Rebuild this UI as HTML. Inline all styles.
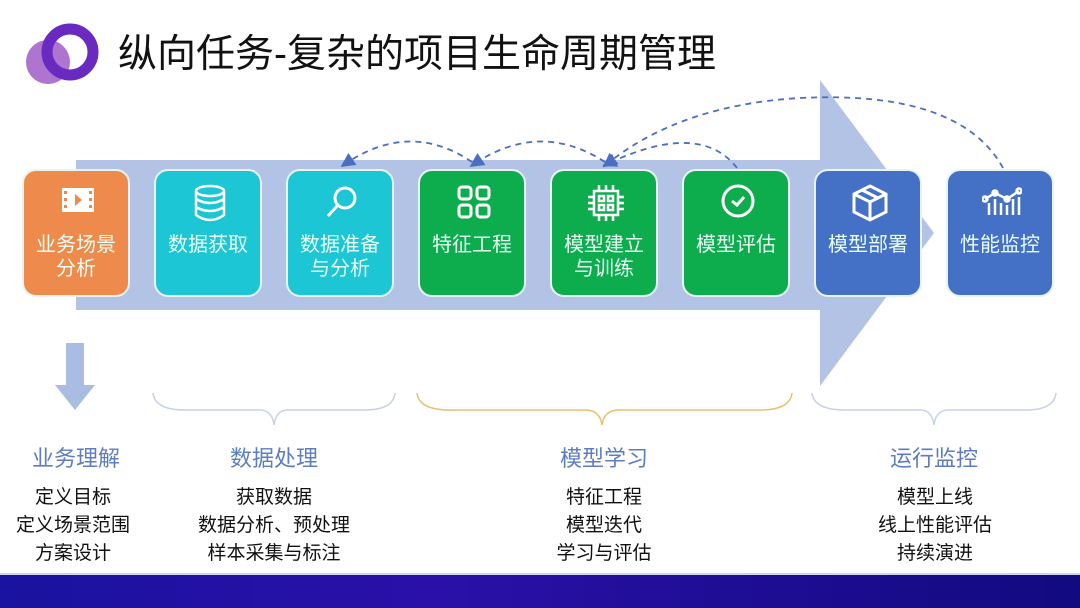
<!DOCTYPE html>
<html><head><meta charset="utf-8"><style>
body{margin:0;width:1080px;height:608px;overflow:hidden;background:#fff;font-family:"Liberation Sans","Noto Sans CJK SC",sans-serif;position:relative}
.t{position:absolute;left:118px;top:23px;font-size:39px;color:#111;letter-spacing:0px}
.box{position:absolute;top:169px;width:108px;height:128px;border-radius:14px;border:2px solid #e8f4f0;box-sizing:border-box;color:#e8fff4;text-align:center;font-size:20px;line-height:24px}
.box .lb{position:absolute;top:62px;left:-4px;right:-4px}
.box svg{position:absolute;left:34px;top:12px}
.h{position:absolute;top:441px;font-size:22px;color:#5d7dbf;text-align:center;width:200px}
.l{position:absolute;top:484px;font-size:19px;line-height:28px;color:#111;text-align:center;width:200px}
</style></head><body>
<svg width="1080" height="608" style="position:absolute;left:0;top:0">
<defs><linearGradient id="g" x1="0" y1="0" x2="1" y2="0"><stop offset="0" stop-color="#1a12a0"/><stop offset="0.4" stop-color="#2a10a8"/><stop offset="1" stop-color="#120a80"/></linearGradient>
<marker id="a" markerWidth="8" markerHeight="8" refX="5" refY="4" orient="auto"><path d="M0,0L8,4L0,8z" fill="#4a6fc0"/></marker></defs>
<circle cx="48" cy="62" r="22" fill="#a05cc8" opacity="0.85"/>
<circle cx="70" cy="52" r="23" fill="none" stroke="#6a2ac0" stroke-width="11"/>
<path d="M76,160 H820 V80 L934,233 L820,386 V310 H76Z" fill="#b3c3e5"/>
<g fill="none" stroke="#4a6fc0" stroke-width="1.8" stroke-dasharray="6,5">
<path d="M472,162 Q410,120 345,164" marker-end="url(#a)"/>
<path d="M605,162 Q540,120 474,164" marker-end="url(#a)"/>
<path d="M737,168 Q700,120 607,164" marker-end="url(#a)"/>
<path d="M1003,168 Q960,90 800,98 Q680,105 607,164" marker-end="url(#a)"/>
</g>
<path d="M66,343 H84 V385 H95 L75,410 L55,385 H66Z" fill="#a9bde3"/>
<g fill="none" stroke-width="1.5">
<path d="M153,393 Q155,410 185,410 H260 Q272,410 274,425 Q276,410 288,410 H365 Q393,410 395,393" stroke="#c9d2e2"/>
<path d="M417,393 Q419,410 450,410 H585 Q600,410 602,425 Q604,410 619,410 H760 Q790,410 792,393" stroke="#e8c070"/>
<path d="M812,393 Q814,410 845,410 H920 Q932,410 934,425 Q936,410 948,410 H1026 Q1054,410 1056,393" stroke="#c9d2e2"/>
</g>
<rect x="0" y="575" width="1080" height="33" fill="url(#g)"/>
<rect x="0" y="573" width="1080" height="2" fill="#d0d4ec"/>
</svg>
<div class="t">纵向任务-复杂的项目生命周期管理</div>

<div class="box" style="left:22px;background:#ee8b4c"><svg width="40" height="34" viewBox="0 0 40 34"><rect x="4" y="5" width="32" height="24" fill="#fff"/><path d="M17,11 L24,17 L17,23z" fill="#ee8b4c"/><g fill="#ee8b4c"><rect x="6" y="8" width="3" height="3"/><rect x="6" y="15" width="3" height="3"/><rect x="6" y="22" width="3" height="3"/><rect x="31" y="8" width="3" height="3"/><rect x="31" y="15" width="3" height="3"/><rect x="31" y="22" width="3" height="3"/></g></svg><div class="lb">业务场景<br>分析</div></div>
<div class="box" style="left:154px;background:#1cc6d4"><svg width="40" height="40" viewBox="0 0 40 40" fill="none" stroke="#fff" stroke-width="2.5"><ellipse cx="20" cy="8" rx="14" ry="5"/><path d="M6,8V32Q20,42 34,32V8M6,16Q20,24 34,16M6,24Q20,32 34,24"/></svg><div class="lb">数据获取</div></div>
<div class="box" style="left:286px;background:#1cc6d4"><svg width="40" height="40" viewBox="0 0 40 40" fill="none" stroke="#fff" stroke-width="3"><circle cx="23" cy="15" r="10"/><path d="M16,22L6,33"/></svg><div class="lb">数据准备<br>与分析</div></div>
<div class="box" style="left:418px;background:#0dad4e"><svg width="40" height="40" viewBox="0 0 40 40" fill="none" stroke="#fff" stroke-width="3"><rect x="5" y="4" width="12" height="12" rx="3"/><rect x="23" y="4" width="12" height="12" rx="3"/><rect x="5" y="22" width="12" height="12" rx="3"/><rect x="23" y="22" width="12" height="12" rx="3"/></svg><div class="lb">特征工程</div></div>
<div class="box" style="left:550px;background:#0dad4e"><svg width="40" height="40" viewBox="0 0 40 40" fill="none" stroke="#fff" stroke-width="2.5"><rect x="8" y="8" width="24" height="24"/><rect x="13" y="13" width="5" height="5"/><rect x="22" y="13" width="5" height="5"/><rect x="13" y="22" width="5" height="5"/><rect x="22" y="22" width="5" height="5"/><path d="M13,2V8M20,2V8M27,2V8M13,32V38M20,32V38M27,32V38M2,14H8M2,20H8M2,26H8M32,14H38M32,20H38M32,26H38"/></svg><div class="lb">模型建立<br>与训练</div></div>
<div class="box" style="left:682px;background:#0dad4e"><svg width="40" height="40" viewBox="0 0 40 40" fill="none" stroke="#fff" stroke-width="3"><circle cx="20" cy="18" r="15"/><path d="M14,18L19,22L26,14"/></svg><div class="lb">模型评估</div></div>
<div class="box" style="left:814px;background:#4471c5"><svg width="40" height="40" viewBox="0 0 40 40" fill="none" stroke="#fff" stroke-width="3"><path d="M20,3L36,11V29L20,37L4,29V11Z M4,11L20,19L36,11 M20,19V37 M12,7L28,15"/></svg><div class="lb">模型部署</div></div>
<div class="box" style="left:946px;background:#4471c5"><svg width="40" height="40" viewBox="0 0 40 40" fill="none" stroke="#fff" stroke-width="2.5"><path d="M3,16L13,10L25,16L37,8"/><circle cx="3" cy="16" r="2.5"/><circle cx="13" cy="10" r="2.5"/><circle cx="25" cy="16" r="2.5"/><circle cx="37" cy="8" r="2.5"/><path d="M7,32V20M13,32V16M19,32V20M25,32V22M31,32V16M37,32V14"/></svg><div class="lb">性能监控</div></div>

<div class="h" style="left:-24px">业务理解</div>
<div class="h" style="left:174px">数据处理</div>
<div class="h" style="left:504px">模型学习</div>
<div class="h" style="left:834px">运行监控</div>
<div class="l" style="left:-27px">定义目标<br>定义场景范围<br>方案设计</div>
<div class="l" style="left:174px">获取数据<br>数据分析、预处理<br>样本采集与标注</div>
<div class="l" style="left:504px">特征工程<br>模型迭代<br>学习与评估</div>
<div class="l" style="left:835px">模型上线<br>线上性能评估<br>持续演进</div>
</body></html>
